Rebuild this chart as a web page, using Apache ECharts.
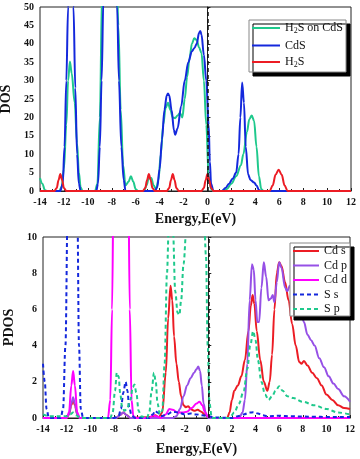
<!DOCTYPE html>
<html><head><meta charset="utf-8">
<script src="https://cdn.jsdelivr.net/npm/echarts@6/dist/echarts.min.js"></script>
<style>html,body{margin:0;padding:0;background:#fff}#c{width:360px;height:459px}</style>
</head><body><div id="c"></div>
<script>
// ---- Axis ticks ----
var xTicks = [-14,-12,-10,-8,-6,-4,-2,0,2,4,6,8,10,12];
var dosTicks = [0,5,10,15,20,25,30,35,40,45,50];
var pdosTicks = [0,2,4,6,8,10];

// ---- Top panel: total DOS ----
var dosH2SonCdS = [[-14,3.5],[-13.8,2],[-13.6,0.3],[-13.4,0],[-12.4,0],[-12.2,1],[-12.0,6],[-11.8,18],[-11.65,30],[-11.5,35.2],[-11.35,32],[-11.1,24],[-10.9,13],[-10.75,5],[-10.6,1],[-10.45,0],[-9.4,0],[-9.2,2],[-9.0,20],[-8.8,55],[-8.5,75],[-8.0,80],[-7.6,60],[-7.45,45],[-7.25,22],[-7.05,7],[-6.85,1.5],[-6.6,2.5],[-6.4,4],[-6.2,2.5],[-6.0,0.5],[-5.8,0],[-5.3,0],[-5.1,1.5],[-4.9,3.5],[-4.7,3.5],[-4.5,1.5],[-4.3,0.5],[-4.1,3],[-3.9,10],[-3.7,18],[-3.5,22.5],[-3.3,24],[-3.1,22],[-2.9,20],[-2.7,19.8],[-2.5,20.5],[-2.3,21.2],[-2.1,20],[-1.9,25],[-1.7,31],[-1.5,36],[-1.3,40],[-1.1,41.5],[-0.9,41],[-0.7,39],[-0.5,37.5],[-0.3,30],[-0.1,18],[0.1,4],[0.3,0.5],[0.5,0],[1.2,0],[1.6,0.5],[2.0,2],[2.4,4],[2.8,7],[3.0,10],[3.3,16],[3.5,19.5],[3.7,20.5],[3.9,19],[4.1,12],[4.3,4],[4.5,0.5],[4.7,0],[12,0]];
var dosCdS = [[-14,0],[-12.3,0],[-12.1,2],[-11.95,12],[-11.8,30],[-11.65,50],[-11.4,75],[-11.2,50],[-11.05,28],[-10.9,10],[-10.75,2],[-10.6,0],[-9.3,0],[-9.15,2],[-9.0,12],[-8.85,30],[-8.7,52],[-8.1,80],[-7.55,50],[-7.4,30],[-7.2,12],[-7.0,3],[-6.85,0],[-4.4,0],[-4.2,1],[-4.0,6],[-3.8,14],[-3.6,22],[-3.4,26],[-3.3,26.5],[-3.2,26],[-3.0,22],[-2.8,16.5],[-2.7,15.3],[-2.5,17],[-2.2,23],[-1.9,30],[-1.6,35],[-1.3,38],[-1.1,38.8],[-0.9,40],[-0.7,43],[-0.6,43.5],[-0.5,42.5],[-0.3,37],[-0.1,30],[0.1,18],[0.2,8],[0.3,2],[0.5,0],[1.2,0],[1.5,0.8],[1.8,2],[2.1,3.3],[2.4,5],[2.6,10],[2.75,20],[2.9,29.5],[3.05,24],[3.2,12],[3.4,4.5],[3.6,3],[3.9,2.3],[4.1,1.5],[4.3,0.3],[4.5,0],[12,0]];
var dosH2S = [[-14,0],[-12.8,0],[-12.6,0.8],[-12.45,3],[-12.3,4.6],[-12.15,3],[-12.0,0.8],[-11.8,0],[-5.4,0],[-5.2,0.8],[-5.05,3],[-4.9,4.6],[-4.75,3],[-4.6,0.8],[-4.4,0],[-3.4,0],[-3.2,0.8],[-3.05,3],[-2.9,4.6],[-2.75,3],[-2.6,0.8],[-2.4,0],[-0.5,0],[-0.3,0.8],[-0.15,3],[0,4.6],[0.15,3],[0.3,0.8],[0.5,0],[5.2,0],[5.45,1.5],[5.7,4.5],[5.95,5.8],[6.2,4.5],[6.45,1.5],[6.7,0],[12,0]];

// ---- Bottom panel: PDOS ----
var pdosCds = [[-14,0],[-12,0],[-11.8,0.2],[-11.6,0.7],[-11.45,1.0],[-11.3,0.7],[-11.1,0.2],[-10.9,0],[-7.8,0],[-7.5,0.15],[-7.2,0.3],[-6.9,0.15],[-6.6,0],[-4.8,0.05],[-4.5,0.15],[-4.2,0.05],[-3.9,0.3],[-3.6,2.5],[-3.4,5.5],[-3.2,7.3],[-3.05,6.5],[-2.9,4.5],[-2.7,3],[-2.5,2],[-2.3,1.2],[-2.1,0.7],[-1.9,0.6],[-1.7,0.65],[-1.5,0.5],[-1.2,0.4],[-0.9,0.45],[-0.6,0.35],[-0.3,0.2],[0,0.05],[0.3,0],[1.6,0],[1.8,0.3],[2.0,1.0],[2.2,1.5],[2.5,1.8],[2.8,2.3],[3.1,3.2],[3.4,4.8],[3.6,6.2],[3.75,6.8],[3.9,6.3],[4.1,4.8],[4.4,3.2],[4.7,2.0],[5.0,1.5],[5.2,2],[5.4,3.5],[5.6,6],[5.8,8],[6.0,8.6],[6.2,8.4],[6.5,7.5],[6.8,6.5],[7.1,5.2],[7.4,4],[7.7,3.1],[7.9,3],[8.1,3.15],[8.4,2.9],[8.8,2.5],[9.2,2.2],[9.6,1.8],[10,1.3],[10.5,1.0],[11,0.7],[11.5,0.55],[12,0.5]];
var pdosCdp = [[-14,0],[-12,0],[-11.8,0.2],[-11.6,0.8],[-11.45,1.15],[-11.3,0.8],[-11.1,0.2],[-10.9,0],[-7.8,0],[-7.5,0.15],[-7.2,0.3],[-6.9,0.15],[-6.6,0],[-3.0,0],[-2.7,0.1],[-2.4,0.5],[-2.1,1.2],[-1.8,1.8],[-1.5,2.2],[-1.2,2.5],[-1.0,2.7],[-0.85,2.85],[-0.7,2.6],[-0.55,1.8],[-0.4,0.8],[-0.2,0.2],[0,0],[2.6,0],[2.9,0.3],[3.1,1],[3.3,3],[3.5,6.5],[3.7,8.5],[3.85,8.2],[4.0,6.5],[4.15,5.3],[4.3,5.3],[4.5,7.2],[4.7,8.6],[4.9,7.8],[5.1,6.5],[5.3,6.6],[5.45,6.8],[5.6,6.4],[5.8,7.5],[6.0,8.6],[6.2,8.3],[6.5,7.2],[6.7,7.0],[6.9,7.3],[7.2,7.2],[7.5,6.8],[7.8,6],[8.1,5.3],[8.4,4.6],[8.7,4.3],[9.0,4.0],[9.4,3.3],[9.8,2.8],[10.2,2.3],[10.6,1.9],[11,1.6],[11.5,1.2],[12,0.9]];
var pdosCdd = [[-14,0],[-12,0],[-11.8,0.3],[-11.6,1.8],[-11.45,2.6],[-11.3,1.8],[-11.1,0.3],[-10.9,0],[-8.5,0],[-8.3,1],[-8.15,6],[-8.0,15],[-7.5,25],[-7.0,20],[-6.8,15],[-6.65,6],[-6.5,1],[-6.35,0.1],[-6.1,0],[-5.0,0],[-4.7,0.15],[-4.4,0.1],[-4.0,0],[-3.6,0.2],[-3.3,0.5],[-3.0,0.45],[-2.6,0.3],[-2.2,0.3],[-1.8,0.35],[-1.4,0.55],[-1.0,0.8],[-0.75,0.9],[-0.5,0.7],[-0.3,0.35],[0,0.05],[0.5,0],[12,0]];
var pdosSs = [[-14,3],[-13.85,2],[-13.7,0.5],[-13.5,0],[-12.5,0],[-12.3,0.5],[-12.1,4],[-11.9,12],[-11.5,18],[-11.1,12],[-10.95,4],[-10.8,0.5],[-10.6,0],[-8,0],[-7.6,0.1],[-7.4,0.5],[-7.2,1.4],[-7.0,2.0],[-6.85,1.5],[-6.7,0.6],[-6.5,0.15],[-6.2,0],[-5.0,0],[-4.7,0.2],[-4.5,0.4],[-4.3,0.3],[-4.0,0.1],[-3.5,0.2],[-3.0,0.35],[-2.5,0.3],[-2,0.2],[-1.5,0.25],[-1,0.2],[-0.5,0.15],[0,0.1],[0.5,0.03],[2,0],[2.5,0.1],[3.0,0.2],[3.5,0.3],[3.8,0.32],[4.2,0.25],[4.6,0.15],[5.0,0.1],[6,0.12],[7,0.1],[8,0.08],[9,0.07],[10,0.06],[11,0.05],[12,0.05]];
var pdosSp = [[-14,0.2],[-13.5,0.1],[-12,0.1],[-11.7,0.2],[-11.45,0.3],[-11.2,0.15],[-10.8,0],[-8.3,0],[-8.1,0.3],[-7.9,1.5],[-7.75,2.5],[-7.6,2.3],[-7.45,1.3],[-7.3,0.6],[-7.1,0.4],[-6.9,0.5],[-6.6,1.0],[-6.4,1.7],[-6.25,1.85],[-6.1,1.4],[-5.9,0.4],[-5.7,0.1],[-5.2,0],[-5.0,0.3],[-4.8,1.5],[-4.6,2.5],[-4.45,2],[-4.3,0.8],[-4.1,0.2],[-3.9,0.4],[-3.7,3],[-3.5,8],[-3.35,10.5],[-3.2,12],[-3.0,10.5],[-2.8,7],[-2.6,5.8],[-2.45,5.7],[-2.3,6.5],[-2.1,8.5],[-1.85,10.5],[-1.5,14],[-1.0,15],[-0.6,14],[-0.4,12],[-0.2,9],[-0.05,4],[0.1,0.8],[0.3,0],[1.8,0],[2.2,0.3],[2.6,0.8],[3.0,1.5],[3.3,2.7],[3.55,4],[3.8,4.8],[4.0,4.3],[4.2,3.2],[4.5,2],[4.8,1.3],[5.1,1.0],[5.4,1.2],[5.7,1.5],[6.0,1.75],[6.3,1.5],[6.7,1.2],[7.2,1.1],[8,0.9],[9,0.7],[10,0.5],[11,0.3],[12,0.2]];

var SERIF = '"Liberation Serif","Times New Roman",serif';
var C = {green:'#1fc98c', blue:'#1428dc', red:'#ec1c24', purple:'#9650e6', magenta:'#ff00ff'};

var chart = echarts.init(document.getElementById('c'), null, {renderer:'canvas'});

function xAx(gi, gap){
  return {gridIndex:gi, type:'value', min:xTicks[0], max:xTicks[xTicks.length-1], interval:2,
    name:'Energy,E(eV)', nameLocation:'middle', nameGap:gap,
    nameTextStyle:{fontFamily:SERIF, fontWeight:'bold', fontSize:14, color:'#111'},
    axisLine:{show:true, lineStyle:{color:'#222', width:1}},
    axisTick:{show:true, inside:true, length:3, lineStyle:{color:'#222'}},
    minorTick:{show:true, splitNumber:2, length:2, lineStyle:{color:'#222'}},
    splitLine:{show:false},
    axisLabel:{fontFamily:SERIF, fontWeight:'bold', fontSize:10, color:'#111', margin:6}};
}
function yAx(gi, ticks, name, gap, minor){
  return {gridIndex:gi, type:'value', min:ticks[0], max:ticks[ticks.length-1], interval:ticks[1]-ticks[0],
    name:name, nameLocation:'middle', nameGap:gap,
    nameTextStyle:{fontFamily:SERIF, fontWeight:'bold', fontSize:14, color:'#111'},
    axisLine:{show:true, lineStyle:{color:'#222', width:1}},
    axisTick:{show:true, inside:true, length:3, lineStyle:{color:'#222'}},
    minorTick:{show:minor, splitNumber:2, length:2, lineStyle:{color:'#222'}},
    splitLine:{show:false},
    axisLabel:{fontFamily:SERIF, fontWeight:'bold', fontSize:10, color:'#111', margin:6}};
}
function ln(name, data, color, gi, dashed){
  return {name:name, type:'line', xAxisIndex:gi, yAxisIndex:gi, data:data,
    symbol:'none', showSymbol:false, smooth:0.35, smoothMonotone:'x', clip:true,
    itemStyle:{color:color},
    lineStyle:{color:color, width:2, type:dashed?[4,3]:'solid'}};
}
var zeroLine = {silent:true, symbol:'none', label:{show:false},
  lineStyle:{color:'#111', type:[4,3], width:1.5}, data:[{xAxis:0}]};

function fmt(n){
  if(n==='H2S on CdS') return '{a|H}{s|2}{a|S on CdS}';
  if(n==='H2S') return '{a|H}{s|2}{a|S}';
  return '{a|'+n+'}';
}
var rich = {a:{fontFamily:SERIF, fontSize:12, lineHeight:14, color:'#111'},
            s:{fontFamily:SERIF, fontSize:8, lineHeight:8, verticalAlign:'bottom', color:'#111'}};

var s1 = ln('H2S on CdS', dosH2SonCdS, C.green, 0);
var s2 = ln('CdS', dosCdS, C.blue, 0);
var s3 = ln('H2S', dosH2S, C.red, 0);
s3.markLine = zeroLine;
var p1 = ln('Cd s', pdosCds, C.red, 1);
var p2 = ln('Cd p', pdosCdp, C.purple, 1);
var p3 = ln('Cd d', pdosCdd, C.magenta, 1);
var p4 = ln('S s', pdosSs, C.blue, 1, true);
var p5 = ln('S p', pdosSp, C.green, 1, true);
p5.markLine = zeroLine;

var legendBase = {orient:'vertical', backgroundColor:'#fff', borderColor:'#888', borderWidth:1,
  shadowColor:'#000', shadowOffsetX:4, shadowOffsetY:4, shadowBlur:0,
  itemHeight:10, formatter:fmt, textStyle:{rich:rich},
  itemStyle:{opacity:0}};

chart.setOption({
  animation:false,
  backgroundColor:'#fff',
  grid:[
    {left:40, right:9, top:7, height:184, show:true, borderColor:'#222', borderWidth:1, backgroundColor:'transparent', outerBoundsMode:'none', containLabel:false},
    {left:43, right:10, top:237, height:181, show:true, borderColor:'#222', borderWidth:1, backgroundColor:'transparent', outerBoundsMode:'none', containLabel:false}
  ],
  xAxis:[xAx(0,21), xAx(1,24)],
  yAxis:[yAx(0,dosTicks,'DOS',24,false), yAx(1,pdosTicks,'PDOS',26,true)],
  legend:[
    Object.assign({}, legendBase, {left:249, top:20, padding:[2,3,3,2], itemGap:4.5, itemWidth:28,
      data:['H2S on CdS','CdS','H2S']}),
    Object.assign({}, legendBase, {left:290, top:243, padding:[2,3,1,2], itemGap:2.5, itemWidth:26,
      data:['Cd s','Cd p','Cd d','S s','S p']})
  ],
  series:[s1,s2,s3,p1,p2,p3,p4,p5]
});
</script></body></html>
